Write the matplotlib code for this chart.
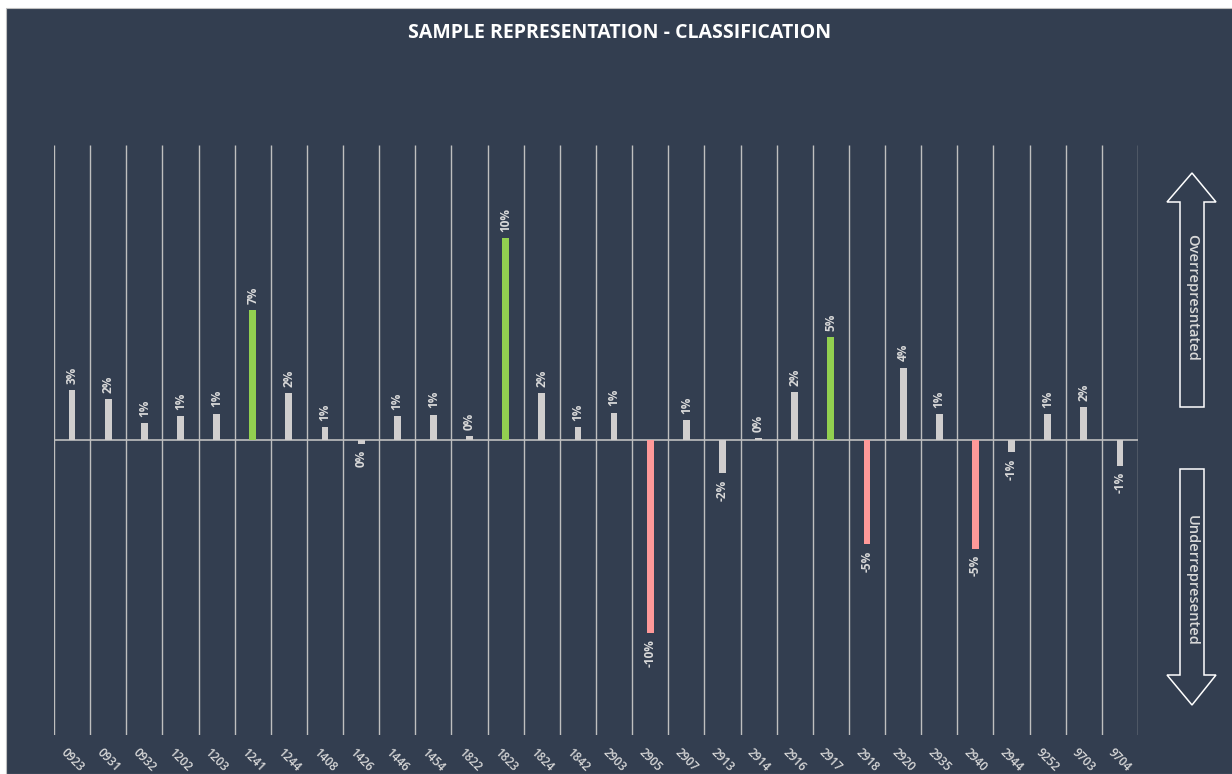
import numpy as np
import matplotlib
matplotlib.use('Agg')
import matplotlib.pyplot as plt
from matplotlib.patches import Polygon, Rectangle

plt.rcParams['font.family'] = ['Open Sans', 'DejaVu Sans']

# data (percent)
classes = ['0923', '0931', '0932', '1202', '1203', '1241', '1244', '1408', '1426', '1446',
           '1454', '1822', '1823', '1824', '1842', '2903', '2905', '2907', '2913', '2914',
           '2916', '2917', '2918', '2920', '2935', '2940', '2944', '9252', '9703', '9704']
deviation = [2.51, 2.07, 0.87, 1.21, 1.33, 6.55, 2.36, 0.64, -0.20, 1.21,
             1.28, 0.20, 10.19, 2.36, 0.64, 1.38, -9.76, 0.99, -1.68, 0.09,
             2.41, 5.19, -5.27, 3.65, 1.31, -5.49, -0.61, 1.31, 1.65, -1.30]

bg = '#333E50'
grid_c = '#BFBFBF'
txt_c = '#D9D9D9'

W, H = 1232, 774
fig = plt.figure(figsize=(W / 100, H / 100), dpi=100)
fig.patch.set_facecolor('white')
fig.patches.append(Rectangle((6 / W, 0), 1, 1 - 8 / H, transform=fig.transFigure,
                             facecolor=bg, edgecolor='#BFBFBF', lw=0.8, zorder=-5))

def px(x, y):
    return x / W, 1 - y / H

x0, y0 = px(54, 735)
x1, y1 = px(1138, 145)
ax = fig.add_axes([x0, y0, x1 - x0, y1 - y0])
ax.set_facecolor('none')

x = np.arange(len(classes))
vals = np.array(deviation)
colors = ['#92D050' if v >= 5 else '#FF9999' if v <= -5 else '#D0CECE' for v in vals]

ax.vlines(np.arange(len(classes) + 1) - 0.5, -14.9, 14.9, color=grid_c, lw=1, zorder=1)
ax.axhline(0, color=grid_c, lw=1.2, zorder=2)
ax.bar(x, vals, width=0.19, color=colors, zorder=3)

for xi, v in zip(x, vals):
    lab = '%d%%' % int(round(v))
    if v >= 0:
        ax.annotate(lab, (xi, v), xytext=(0, 4.5), textcoords='offset points',
                    rotation=90, ha='center', va='bottom', color=txt_c,
                    fontsize=8.5, fontweight='bold')
    else:
        ax.annotate(lab, (xi, v), xytext=(0, -4.5), textcoords='offset points',
                    rotation=90, ha='center', va='top', color=txt_c,
                    fontsize=8.5, fontweight='bold')

ax.set_xlim(-0.5, len(classes) - 0.5)
ax.set_ylim(-14.9, 14.9)
ax.set_yticks([])
ax.set_xticks(x)
ax.set_xticklabels(classes, rotation=-45, ha='center', va='center',
                   rotation_mode='anchor', color=txt_c, fontsize=8.5, fontweight='semibold')
ax.tick_params(axis='x', length=0, pad=18)
for s in ax.spines.values():
    s.set_visible(False)

tx, ty = px(620, 33)
fig.text(tx, ty, 'SAMPLE REPRESENTATION - CLASSIFICATION', ha='center', va='center',
         color='white', fontsize=14, fontweight='bold')

# side arrows
up = [(1192, 173), (1216, 202), (1204, 202), (1204, 407), (1180, 407), (1180, 202), (1167, 202)]
down = [(1180, 469), (1204, 469), (1204, 675), (1216, 675), (1192, 705), (1167, 675), (1180, 675)]
for pts in (up, down):
    fig.patches.append(Polygon([px(a, b) for a, b in pts], closed=True, transform=fig.transFigure,
                               facecolor='none', edgecolor='white', lw=1.1, zorder=5))

fig.text(*px(1192, 297), 'Overrepresntated', rotation=-90, ha='center', va='center',
         color=txt_c, fontsize=10.5, fontweight='semibold')
fig.text(*px(1192, 580), 'Underrepresented', rotation=-90, ha='center', va='center',
         color=txt_c, fontsize=10.5, fontweight='semibold')

fig.savefig('out.png', dpi=100, facecolor=fig.get_facecolor())
